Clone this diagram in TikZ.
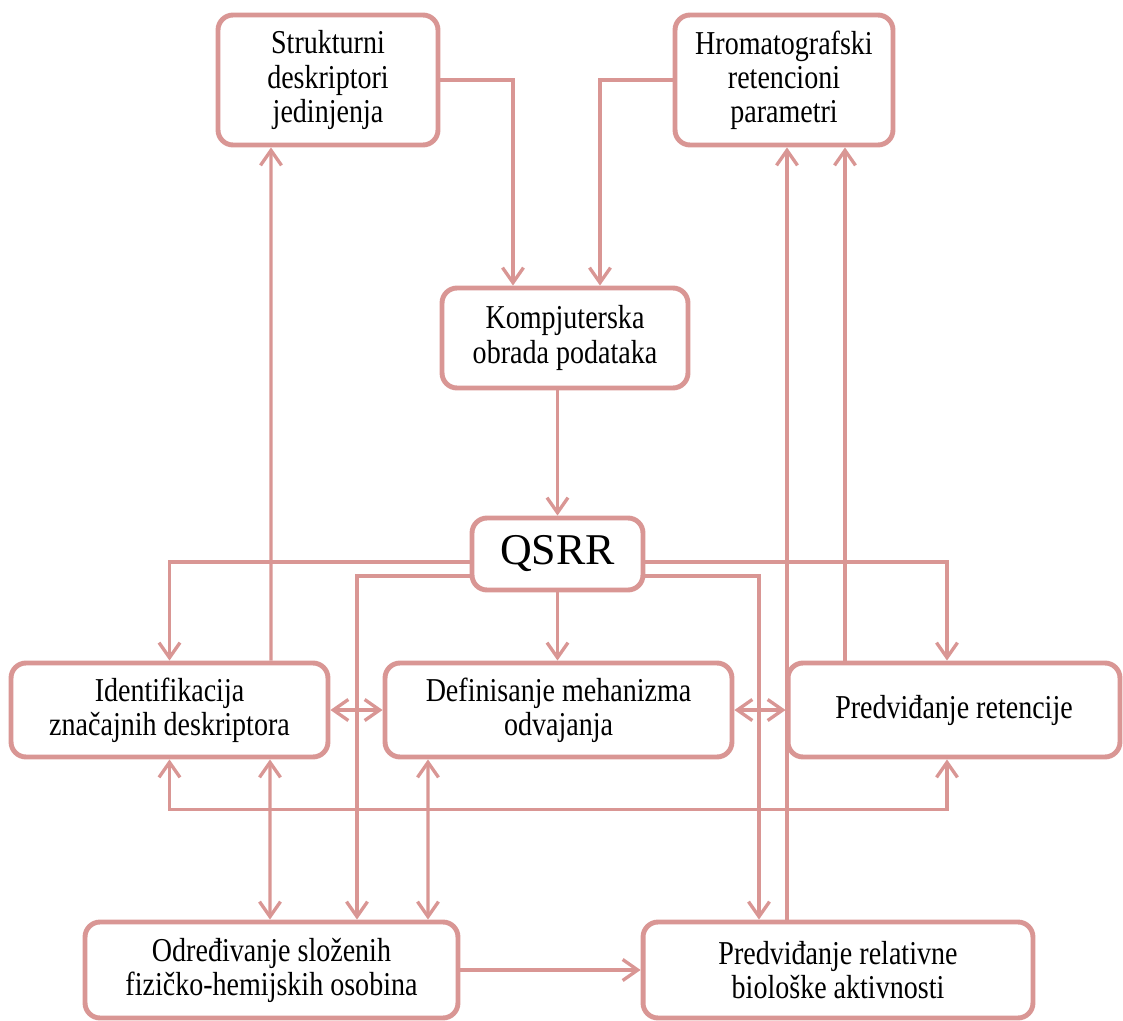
\documentclass[tikz,border=0pt]{standalone}
\usepackage{fontspec}
\setmainfont{Liberation Serif}[FakeStretch=0.84]
\newfontfamily\plainserif{Liberation Serif}
\usetikzlibrary{arrows.meta, calc}
\definecolor{rose}{RGB}{217,150,148}

\tikzset{
  box/.style={draw=rose, line width=2.8pt, rounded corners=0.3cm, fill=white, align=center, inner sep=2pt, font=\fontsize{19}{19.4}\selectfont},
  link/.style={draw=rose, line width=1.9pt, -{Straight Barb[length=0.3cm, width=0.42cm]}},
  twoway/.style={draw=rose, line width=1.9pt, {Straight Barb[length=0.3cm, width=0.42cm]}-{Straight Barb[length=0.3cm, width=0.42cm]}},
}

\begin{document}
\begin{tikzpicture}[x=0.02cm, y=-0.02cm]
        \useasboundingbox (0,0) rectangle (1123,1021);

        % Boxes
        \node[box, minimum width=4.4cm, minimum height=2.6cm] (str) at (328, 80) {Strukturni\\deskriptori\\jedinjenja};
        \node[box, minimum width=4.36cm, minimum height=2.6cm] (hrom) at (784, 80) {Hromatografski\\retencioni\\parametri};
        \node[box, minimum width=4.92cm, minimum height=2.0cm] (komp) at (565, 338) {Kompjuterska\\obrada podataka};
        \node[box, minimum width=3.42cm, minimum height=1.44cm, font=\plainserif\fontsize{25}{28}\selectfont] (qsrr) at (557.5, 554) {QSRR};
        \node[box, minimum width=6.34cm, minimum height=1.88cm] (ident) at (169.5, 710) {Identifikacija\\značajnih deskriptora};
        \node[box, minimum width=6.94cm, minimum height=1.88cm] (defin) at (558.5, 710) {Definisanje mehanizma\\odvajanja};
        \node[box, minimum width=6.64cm, minimum height=1.88cm] (pret) at (954, 710) {Predviđanje retencije};
        \node[box, minimum width=7.46cm, minimum height=1.92cm] (odr) at (271.5, 970) {Određivanje složenih\\fizičko-hemijskih osobina};
        \node[box, minimum width=7.8cm, minimum height=1.92cm] (prel) at (838, 970) {Predviđanje relativne\\biološke aktivnosti};

        % Inputs
        \draw[link] (str.east) -| ($(komp.north)+(-52,0)$);
        \draw[link] (hrom.west) -| ($(komp.north)+(35,0)$);
        \draw[link] (qsrr.north |- komp.south) -- (qsrr.north);

        % Out of QSRR
        \draw[link] ($(qsrr.west)+(0,8)$) -| (ident.north);
        \draw[link] ($(qsrr.west)+(0,22)$) -| ($(odr.north)+(85.5,0)$);
        \draw[link] (qsrr.south) -- (qsrr.south |- defin.north);
        \draw[link] ($(qsrr.east)+(0,8)$) -| ($(pret.north)+(-7,0)$);
        \draw[link] ($(qsrr.east)+(0,22)$) -| ($(prel.north)+(-79,0)$);

        % Feedback
        \draw[link] ($(ident.north)+(101.5,0)$) -- ($(str.south)+(-57,0)$);
        \draw[link] ($(prel.north)+(-51,0)$) -- ($(hrom.south)+(3,0)$);
        \draw[link] ($(pret.north)+(-109,0)$) -- ($(hrom.south)+(61,0)$);

        % Between results
        \draw[twoway] (ident.east) -- (defin.west);
        \draw[twoway] (defin.east) -- (pret.west);
        \draw[twoway] (ident.south) -- ++(0,50) -| ($(pret.south)+(-7,0)$);
        \draw[twoway] ($(ident.south)+(100.5,0)$) -- ($(odr.north)+(-1.5,0)$);
        \draw[twoway] ($(defin.south)+(-130.5,0)$) -- ($(odr.north)+(156.5,0)$);
        \draw[link] (odr.east) -- (prel.west);
\end{tikzpicture}
\end{document}
